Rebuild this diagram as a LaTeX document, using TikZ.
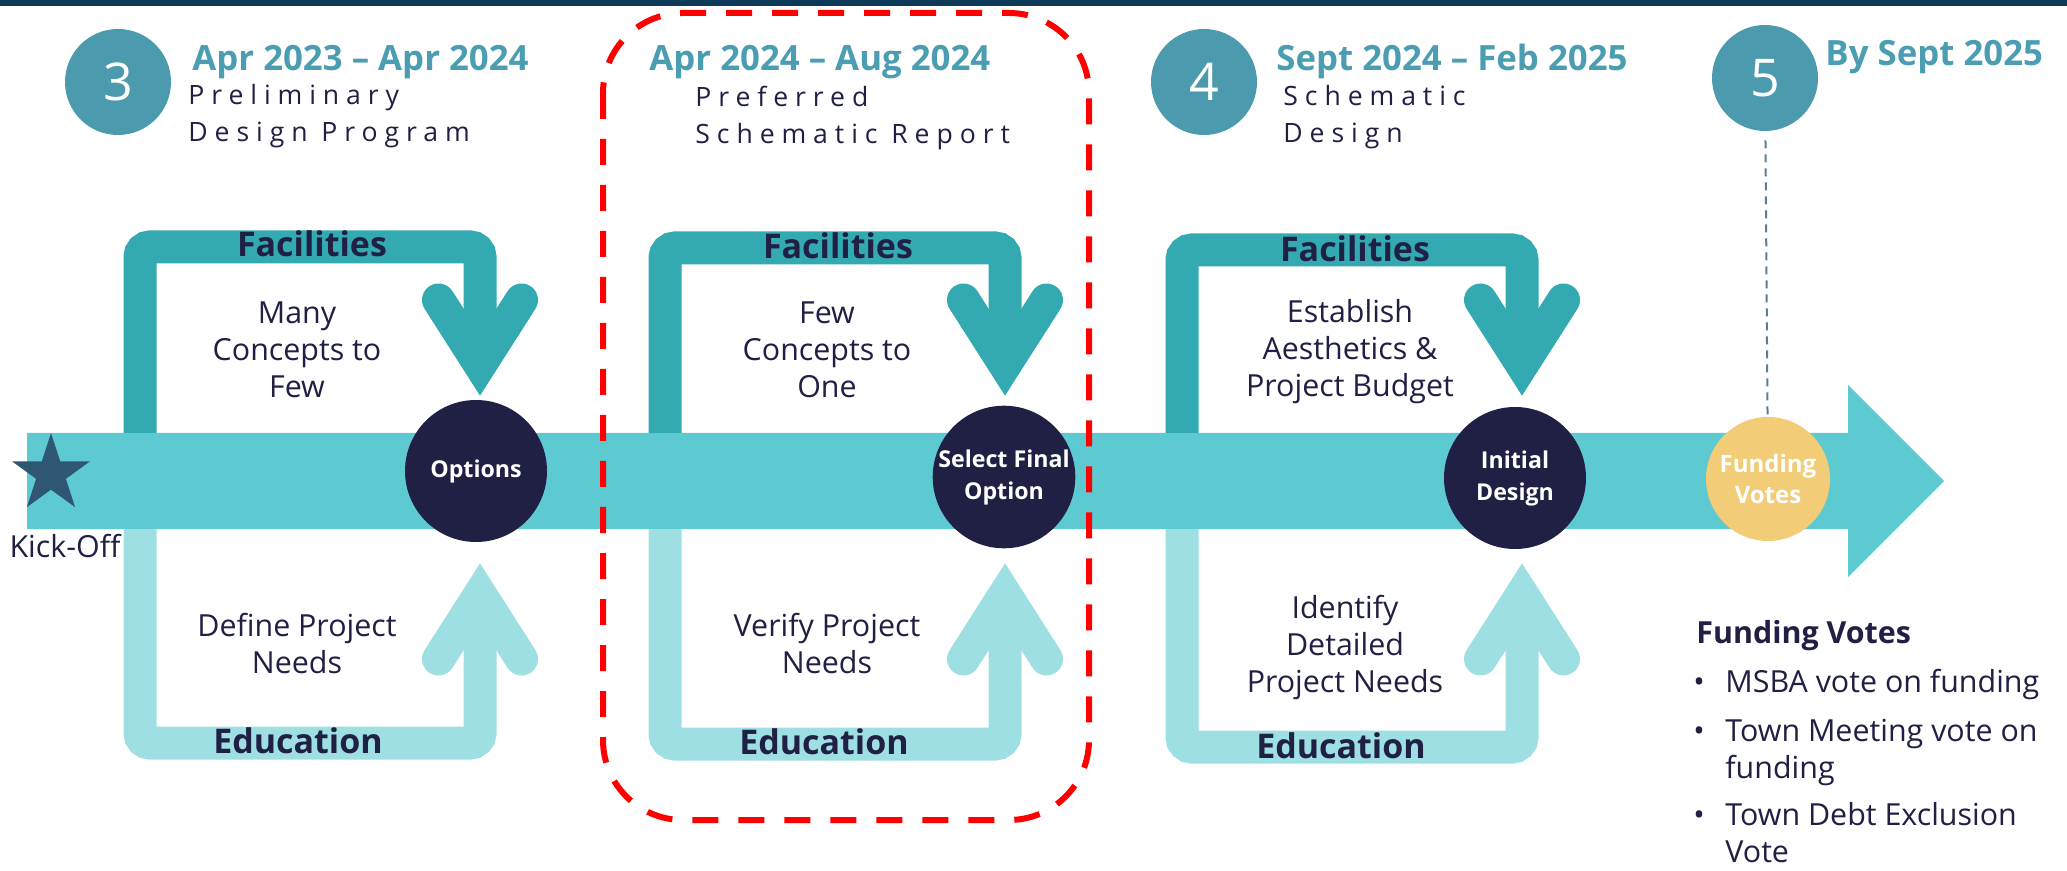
\documentclass[tikz,border=0pt]{standalone}
\usepackage{fontspec}
\setmainfont{Open Sans}
\newfontfamily\spaced[LetterSpace=26]{Open Sans}
\usetikzlibrary{shapes.geometric,calc}
\definecolor{topbar}{HTML}{0E3A5A}
\definecolor{navy}{HTML}{1F2044}
\definecolor{numc}{HTML}{4C9AAE}
\definecolor{datec}{HTML}{4B9DB1}
\definecolor{bandc}{HTML}{5DC9D1}
\definecolor{facc}{HTML}{33A9B1}
\definecolor{educ}{HTML}{9EDFE3}
\definecolor{goldc}{HTML}{F2CC77}
\definecolor{starc}{HTML}{2F5672}
\definecolor{vlinec}{HTML}{5B7E95}
\tikzset{
  facbar/.style={draw=facc,line width=16.5pt,rounded corners=5pt},
  edubar/.style={draw=educ,line width=16.5pt,rounded corners=5pt},
  fachead/.style={draw=facc,line width=16.5pt,line cap=round,line join=miter},
  eduhead/.style={draw=educ,line width=16.5pt,line cap=round,line join=miter},
  hub/.style={circle,fill=navy,text=white,minimum size=71pt,inner sep=0,align=center,
    font=\bfseries\fontsize{11.6}{16}\selectfont},
  vote/.style={circle,fill=goldc,text=white,minimum size=62pt,inner sep=0,align=center,
    font=\bfseries\fontsize{12}{15.5}\selectfont},
  num/.style={circle,fill=numc,text=white,minimum size=53pt,inner sep=0,
    font=\fontsize{26}{30}\selectfont},
  datelbl/.style={anchor=base west,inner sep=0,text=datec,font=\bfseries\fontsize{17.4}{20}\selectfont},
  phase/.style={anchor=base west,inner sep=0,text=navy,align=left,font=\spaced\fontsize{13.3}{18.5}\selectfont},
  barlbl/.style={anchor=base,inner sep=0,text=navy,font=\bfseries\fontsize{17}{20}\selectfont},
  lbl/.style={anchor=base,inner sep=0,text=navy,align=center,font=\fontsize{15.2}{18.5}\selectfont},
  vtxt/.style={anchor=base west,inner sep=0,text=navy,align=left,font=\fontsize{15.2}{18.5}\selectfont},
  redbox/.style={draw=red,line width=3pt,dash pattern=on 13pt off 10pt,rounded corners=40pt},
}
\begin{document}
\begin{tikzpicture}[x=0.5pt,y=-0.5pt]
  \useasboundingbox (0,0) rectangle (2067,871);
  \fill[topbar] (0,0) rectangle (2067,6);
  % timeline
  \fill[bandc] (27,433) -- (1848,433) -- (1848,385) -- (1944,481) -- (1848,577)
    -- (1848,529) -- (27,529) -- cycle;
  % facilities and education loops
  \foreach \L/\R/\T/\B in {140/480/247/743, 665/1005/248/744, 1182/1522/250/747} {
    \draw[facbar] (\L,433) |- (\R,\T) -- (\R,355);
    \draw[fachead] (\R-41.5,300) -- (\R,365) -- (\R+41.5,300);
    \draw[edubar] (\L,529) |- (\R,\B) -- (\R,604);
    \draw[eduhead] (\R-41.5,659) -- (\R,594) -- (\R+41.5,659);
  }
  \node[barlbl] at (312,257) {Facilities};
  \node[barlbl] at (838,259) {Facilities};
  \node[barlbl] at (1355,262) {Facilities};
  \node[barlbl] at (298,753) {Education};
  \node[barlbl] at (824,754) {Education};
  \node[barlbl] at (1341,758) {Education};
  % base anchor sits on the last line
  \node[lbl] (t1) at (297,398) {Many\\Concepts to\\Few};
  \node[lbl] (t2) at (827,398) {Few\\Concepts to\\One};
  \node[lbl] (t3) at (1350,397) {Establish\\Aesthetics \&\\Project Budget};
  \node[lbl] (e1) at (297,673) {Define Project\\Needs};
  \node[lbl] (e2) at (827,673) {Verify Project\\Needs};
  \node[lbl] (e3) at (1345,692) {Identify\\Detailed\\Project Needs};
  % milestones
  \node[star,star points=5,star point ratio=2.618,minimum size=41pt,inner sep=0,fill=starc] (ko) at (51,474) {};
  \node[lbl] at (65,557) {Kick-Off};
  \node[hub] (opt) at (476,471) {Options};
  \node[hub] (sel) at (1004,477) {Select Final\\Option};
  \node[hub] (ini) at (1515,478) {Initial\\Design};
  \node[vote] (fund) at (1768,479) {Funding\\Votes};
  % phases
  \node[num] (n3) at (118,82) {3};
  \node[num] (n4) at (1204,82) {4};
  \node[num] (n5) at (1765,78) {5};
  \draw[vlinec,line width=1pt,dash pattern=on 4pt off 3pt,shorten <=4.5pt] (n5) -- (fund);
  \node[datelbl] (d1) at (192,71) {Apr 2023 – Apr 2024};
  \node[datelbl] (d2) at (649,71) {Apr 2024 – Aug 2024};
  \node[datelbl] (d3) at (1276,71) {Sept 2024 – Feb 2025};
  \node[datelbl] (d4) at (1825,66) {By Sept 2025};
  \node[phase] (p1) at (188,142) {Preliminary\\Design Program};
  \node[phase] (p2) at (695,144) {Preferred\\Schematic Report};
  \node[phase] (p3) at (1283,143) {Schematic\\Design};
  % funding votes list
  \node[vtxt,font=\bfseries\fontsize{15.2}{18.5}\selectfont] (fv) at (1696,643) {Funding Votes};
  \foreach \i/\y/\z/\t in {1/692/692/{MSBA vote on funding},2/778/741/{Town Meeting vote on\\funding},3/862/825/{Town Debt Exclusion\\Vote}} {
    \node[vtxt] (v\i) at (1725,\y) {\t};
    \node[vtxt] (b\i) at (1693,\z) {\textbullet};
  }
  \draw[redbox] (603,13) rectangle (1089,820);
\end{tikzpicture}
\end{document}
